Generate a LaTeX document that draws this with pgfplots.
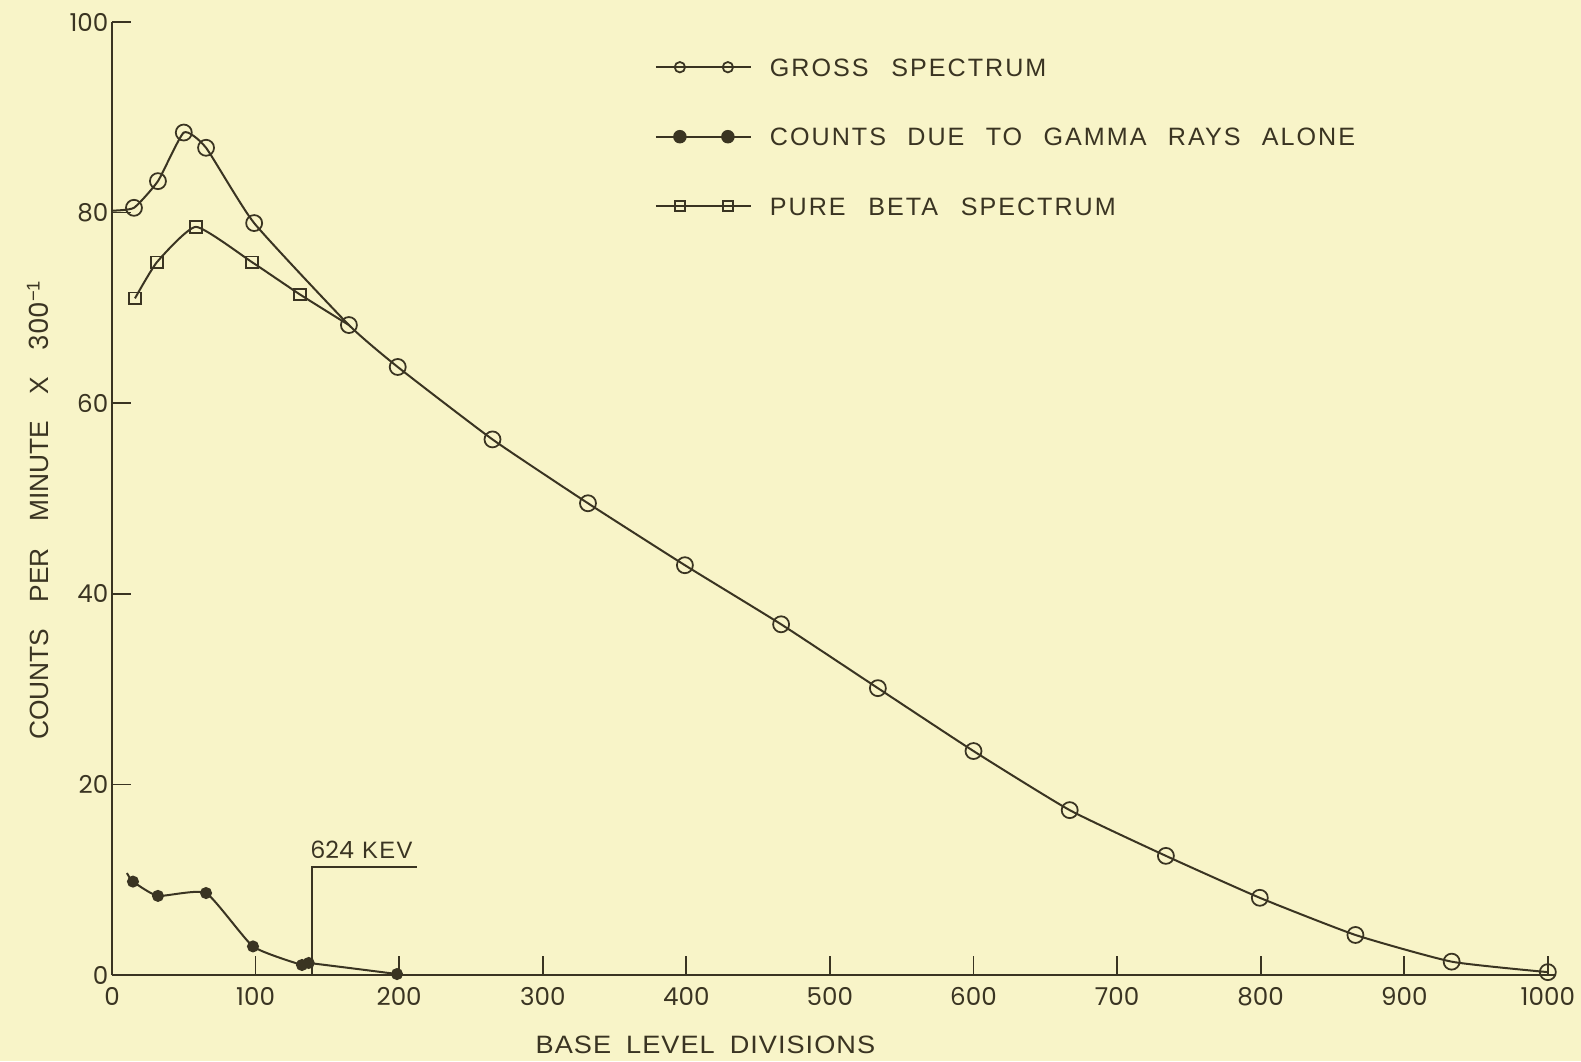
\documentclass[border=0pt]{standalone}
\usepackage{fontspec}
\setmainfont{Liberation Sans}
\newfontfamily\numfont{Poppins}
\newfontfamily\legfont[LetterSpace=8]{Liberation Sans}
\newfontfamily\labfont[FakeStretch=1.08,LetterSpace=4]{Liberation Sans}
\newfontfamily\kevfont[LetterSpace=6]{Liberation Sans}
\usepackage{pgfplots}
\pgfplotsset{compat=1.18}

\definecolor{paper}{RGB}{248,244,200}
\definecolor{ink}{RGB}{58,52,34}

% measured spectra
\pgfplotstableread{
x y
0 80.2
15.3 80.5
32 83.3
50 88.4
65.5 86.8
99 78.9
165 68.2
199 63.8
265 56.2
331.5 49.5
399 43.0
466 36.8
533.4 30.1
600 23.5
667 17.3
734 12.5
799.4 8.1
866 4.2
933 1.4
1000 0.3
}\gross
\pgfplotstableread{
x y
10.4 10.7
14.6 9.8
32 8.3
65.5 8.6
98.2 3.0
132.3 1.05
137 1.26
198.5 0.1
}\gamma
\pgfplotstableread{
x y
16 71.0
31.3 74.8
58.5 78.5
97.5 74.8
131 71.4
165 68.2
}\beta

\begin{document}
\begin{tikzpicture}
\fill[paper] (0,0) rectangle (316.2mm,212.2mm);
\begin{axis}[
  at={(22.4mm,17.2mm)}, anchor=south west,
  scale only axis, width=288.6mm, height=190.6mm,
  xmin=0, xmax=1005, ymin=0, ymax=100,
  axis lines=left,
  axis line style={ink, line width=0.4mm, -},
  xtick={0,100,...,1000}, ytick={0,20,...,100},
  tick align=inside, major tick length=3.8mm,
  tick style={ink, line width=0.35mm},
  /pgf/number format/assume math mode=true,
  /pgf/number format/1000 sep={},
  xticklabel style={font=\numfont\fontsize{14}{14}\selectfont, text=ink, yshift=-1.2mm},
  yticklabel style={font=\numfont\fontsize{14}{14}\selectfont, text=ink, xshift=0.5mm},
  clip=false,
  every axis plot/.append style={ink, line width=0.4mm, smooth, tension=0.3},
  legend image code/.code={\draw[#1, mark indices={2,3}]
      plot coordinates {(0mm,0mm) (4.8mm,0mm) (14.4mm,0mm) (19mm,0mm)};},
  legend style={at={(axis cs:378.1,96.2)}, anchor=north west, draw=none, fill=none,
      inner sep=0pt, outer sep=0pt, row sep=10.3mm, column sep=3.6mm,
      font=\legfont\fontsize{14.3}{14.3}\selectfont,
      nodes={inner sep=0pt, text height=3.6mm, text depth=0pt, text=ink}},
  legend cell align=left,
]
\addplot[mark=o, mark size=1.6mm, mark indices={2,...,20},
  mark options={line width=0.35mm, fill=paper},
  legend image post style={every mark/.append style={scale=0.65}}] table {\gross};
\addlegendentry{GROSS\hspace{0.9em}SPECTRUM}
\addplot[mark=*, mark size=1.0mm, mark indices={2,...,8},
  mark options={fill=ink},
  legend image post style={every mark/.append style={scale=1.15}}] table {\gamma};
\addlegendentry{COUNTS\hspace{0.85em}DUE\hspace{0.85em}TO\hspace{0.85em}GAMMA\hspace{0.85em}RAYS\hspace{0.85em}ALONE}
\addplot[mark=square, mark size=1.15mm, mark indices={1,...,5},
  mark options={line width=0.35mm, fill=paper},
  legend image post style={every mark/.append style={scale=0.85}}] table {\beta};
\addlegendentry{PURE\hspace{0.9em}BETA\hspace{0.9em}SPECTRUM}

% 624 keV marker line
\draw[ink, line width=0.35mm] (axis cs:139.3,0) -- (axis cs:139.3,11.3) -- (axis cs:212.4,11.3);
\node[text=ink, font=\kevfont\fontsize{13.5}{13.5}\selectfont] at (axis cs:173.7,13.1) {{\numfont 624} KEV};

\node[text=ink, font=\labfont\fontsize{14.3}{14.3}\selectfont] at (axis cs:413.3,-7.35)
  {BASE\hspace{0.6em}LEVEL\hspace{0.6em}DIVISIONS};
\node[text=ink, rotate=90, font=\fontsize{15}{15}\selectfont] at (axis cs:-51.5,48.8)
  {COUNTS\hspace{1em}PER\hspace{1em}MINUTE\hspace{1em}X\hspace{1em}{\numfont 300}\textsuperscript{−1}};
\end{axis}
\end{tikzpicture}
\end{document}
